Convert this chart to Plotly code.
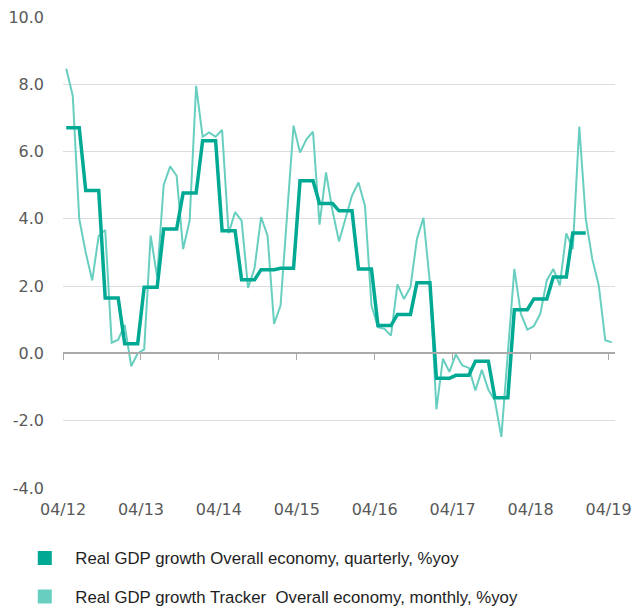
import numpy as np
import plotly.graph_objects as go

# ---- data ----
tick_labels_x = ["04/12", "04/13", "04/14", "04/15", "04/16", "04/17", "04/18", "04/19"]
y_tick_vals = [-4, -2, 0, 2, 4, 6, 8, 10]
y_tick_labels = ["-4.0", "-2.0", "0.0", "2.0", "4.0", "6.0", "8.0", "10.0"]

# quarterly real GDP growth, %yoy (Q2 2012 .. Q4 2018)
quarterly = [6.71, 4.84, 1.65, 0.29, 1.97, 3.70, 4.77, 6.32,
             3.65, 2.19, 2.49, 2.53, 5.13, 4.46, 4.24, 2.51,
             0.83, 1.16, 2.10, -0.74, -0.65, -0.23, -1.32, 1.30,
             1.62, 2.27, 3.58]

# monthly GDP tracker, %yoy (Apr 2012 .. Apr 2019)
monthly = [8.46, 7.66, 4.00, 3.00, 2.17, 3.50, 3.67, 0.32, 0.41, 0.85,
           -0.38, 0.00, 0.12, 3.50, 2.27, 5.00, 5.56, 5.28, 3.10, 3.95,
           7.95, 6.44, 6.57, 6.44, 6.64, 3.57, 4.20, 3.95, 1.95, 2.54,
           4.05, 3.50, 0.88, 1.42, 4.10, 6.77, 5.97, 6.37, 6.59, 3.83,
           5.38, 4.24, 3.33, 4.05, 4.69, 5.08, 4.39, 1.42, 0.78, 0.73,
           0.53, 2.05, 1.62, 1.97, 3.40, 4.03, 2.10, -1.66, -0.16, -0.55,
           -0.03, -0.36, -0.43, -1.10, -0.49, -1.08, -1.40, -2.48, 0.00, 2.51,
           1.18, 0.71, 0.81, 1.18, 2.17, 2.51, 2.02, 3.57, 3.10, 6.74,
           4.00, 2.81, 2.02, 0.39, 0.33]

name_q = "Real GDP growth Overall economy, quarterly, %yoy"
name_m = "Real GDP growth Tracker  Overall economy, monthly, %yoy"

col_q = "#00A994"
col_m = "#68CFC0"

x_m = np.arange(len(monthly)) + 0.5
q_monthly = np.repeat(quarterly, 3)
x_q = np.arange(len(q_monthly)) + 0.5
tick_pos = np.arange(len(tick_labels_x)) * 12

fig = go.Figure()
fig.add_trace(go.Scatter(x=x_m, y=monthly, mode="lines", line=dict(color=col_m, width=2),
                         showlegend=False, hoverinfo="skip"))
fig.add_trace(go.Scatter(x=x_q, y=q_monthly, mode="lines", xaxis="x2",
                         line=dict(color=col_q, width=3.5), showlegend=False, hoverinfo="skip"))
# legend proxies
fig.add_trace(go.Scatter(x=[None], y=[None], mode="markers", name=name_q,
                         marker=dict(symbol="square", size=14, color=col_q), legend="legend"))
fig.add_trace(go.Scatter(x=[None], y=[None], mode="markers", name=name_m,
                         marker=dict(symbol="square", size=14, color=col_m), legend="legend2"))

xr = [0, 85]
tick_font = dict(family="DejaVu Sans", size=16, color="#595959")
leg_font = dict(family="Liberation Sans", size=16.8, color="#1e1e1e")

fig.update_layout(
    width=640, height=607,
    margin=dict(l=63, r=24.5, t=17, b=119, autoexpand=False),
    plot_bgcolor="white", paper_bgcolor="white",
    xaxis=dict(range=xr, tickvals=tick_pos, ticktext=tick_labels_x, showgrid=False,
               zeroline=False, showline=False, ticks="", tickfont=tick_font,
               ticklabelstandoff=10, tickangle=0, automargin=False),
    xaxis2=dict(range=xr, overlaying="x", anchor="free", position=4 / 14,
                tickvals=tick_pos, showticklabels=False, ticks="outside", ticklen=6,
                tickcolor="#aaaaaa", tickwidth=1, showline=True, linecolor="#aaaaaa",
                linewidth=1.5, showgrid=False, zeroline=False),
    yaxis=dict(range=[-4, 10], tickvals=y_tick_vals, ticktext=y_tick_labels,
               showgrid=True, gridcolor="#dddddd", gridwidth=1.2, zeroline=False,
               showline=False, ticks="", tickfont=tick_font, ticklabelstandoff=18,
               automargin=False),
    legend=dict(xref="container", yref="container", x=0.0223, y=(607 - 558) / 607,
                yanchor="middle", xanchor="left", font=leg_font, bgcolor="rgba(0,0,0,0)",
                itemwidth=51),
    legend2=dict(xref="container", yref="container", x=0.0223, y=(607 - 596.5) / 607,
                 yanchor="middle", xanchor="left", font=leg_font, bgcolor="rgba(0,0,0,0)",
                 itemwidth=51),
)

fig.write_html("out.html", config={"displayModeBar": False},
               post_script="document.body.style.margin='0';")
